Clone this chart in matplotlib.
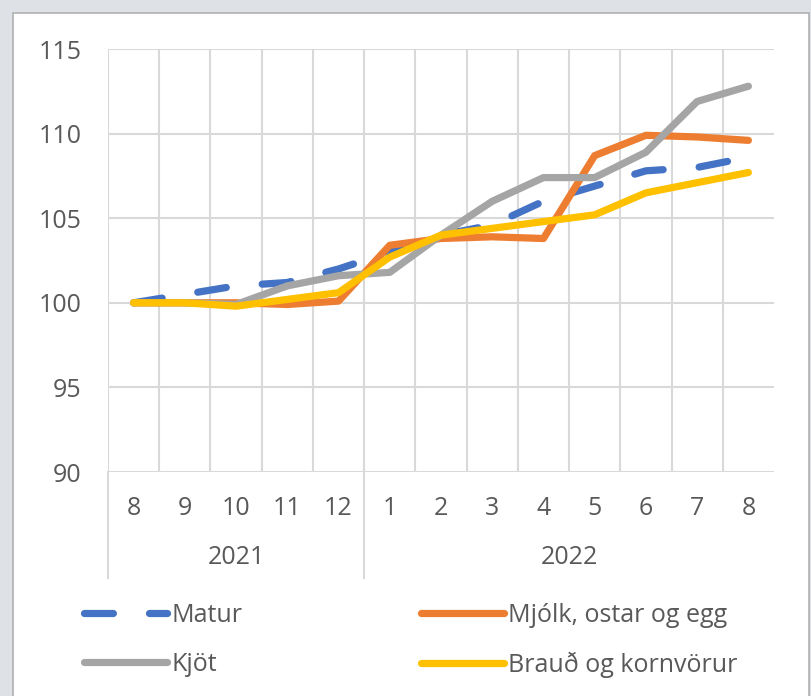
import matplotlib
matplotlib.use("Agg")
import matplotlib.pyplot as plt
from matplotlib.patches import Rectangle
from matplotlib.lines import Line2D

# gögn lesin af myndinni (vísitala, 8/2021 = 100)
manudir = ['8', '9', '10', '11', '12', '1', '2', '3', '4', '5', '6', '7', '8']
ar = ['2021', '2022']
ar_midja = [2, 8.5]          # miðja hvers árs á flokkaásnum
ar_skil = [-0.5, 4.5]        # skil milli ára

matur = [100, 100.5, 101.0, 101.2, 102.0, 103.0, 104.0, 104.6, 106.0, 106.9, 107.8, 108.0, 108.6]
mjolk = [100, 100.0, 100.0, 99.9, 100.1, 103.4, 103.8, 103.9, 103.8, 108.7, 109.9, 109.8, 109.6]
kjot = [100, 100.0, 99.9, 101.0, 101.6, 101.8, 104.0, 106.0, 107.4, 107.4, 108.9, 111.9, 112.8]
braud = [100, 100.0, 99.8, 100.2, 100.6, 102.7, 104.0, 104.4, 104.8, 105.2, 106.5, 107.1, 107.7]

y_gildi = [90, 95, 100, 105, 110, 115]

BLAR = '#4472C4'
APP = '#ED7D31'
GRAR = '#A5A5A5'
GULUR = '#FFC000'
TEXTI = '#595959'
GRID = '#D9D9D9'

plt.rcParams['font.family'] = ['Open Sans', 'DejaVu Sans']

W, H = 811, 696
fig = plt.figure(figsize=(W / 100, H / 100), dpi=100, facecolor='#DEE1E6')

# hvítur flötur
fig.patches.append(Rectangle((13 / W, -0.01), (809 - 13) / W, (H - 13) / H + 0.01,
                             transform=fig.transFigure, facecolor='white',
                             edgecolor='#B0B0B0', linewidth=1.2, zorder=-5))

ax = fig.add_axes([108 / W, (H - 472) / H, (774 - 108) / W, (472 - 49) / H])
ax.set_facecolor('none')
x = list(range(len(manudir)))

lw = 5.2
ax.plot(x, matur, color=BLAR, lw=lw, linestyle=(0, (4, 5)),
        dash_capstyle='round', solid_joinstyle='round', zorder=3)
ax.plot(x, mjolk, color=APP, lw=lw, solid_capstyle='round', solid_joinstyle='round', zorder=4)
ax.plot(x, kjot, color=GRAR, lw=lw, solid_capstyle='round', solid_joinstyle='round', zorder=5)
ax.plot(x, braud, color=GULUR, lw=lw, solid_capstyle='round', solid_joinstyle='round', zorder=6)

ax.set_xlim(-0.5, len(manudir) - 0.5)
ax.set_ylim(90, 115)
ax.set_yticks(y_gildi)
ax.set_xticks(x)
ax.set_xticklabels(manudir)
ax.set_xticks([i - 0.5 for i in range(len(manudir))], minor=True)
ax.grid(axis='y', which='major', color=GRID, lw=1.5, zorder=1)
ax.grid(axis='x', which='minor', color=GRID, lw=1.5, zorder=1)
ax.tick_params(axis='both', which='both', length=0, labelsize=18, labelcolor=TEXTI)
ax.tick_params(axis='y', pad=19)
ax.tick_params(axis='x', pad=17)
for s in ax.spines.values():
    s.set_visible(False)

# ár og skil á flokkaásnum
for xs in ar_skil:
    ax.plot([xs, xs], [0, -0.25], transform=ax.get_xaxis_transform(),
            color=GRID, lw=1.5, clip_on=False)
for xm, a in zip(ar_midja, ar):
    ax.text(xm, -0.201, a, transform=ax.get_xaxis_transform(), ha='center',
            va='center', fontsize=18, color=TEXTI)

# skýringar
def handfang(c, **kw):
    return Line2D([], [], color=c, lw=lw, solid_capstyle='round', **kw)

leg_kw = dict(loc='upper left', frameon=False, fontsize=18, labelcolor=TEXTI,
              handlelength=3.3, handletextpad=0.2, labelspacing=0.95, borderpad=0,
              borderaxespad=0)
l1 = fig.legend([handfang(BLAR, linestyle=(0, (4, 5)), dash_capstyle='round'), handfang(GRAR)],
                ['Matur', 'Kjöt'], bbox_to_anchor=(84 / W, (H - 603) / H), **leg_kw)
l2 = fig.legend([handfang(APP), handfang(GULUR)],
                ['Mjólk, ostar og egg', 'Brauð og kornvörur'],
                bbox_to_anchor=(421 / W, (H - 603) / H), **leg_kw)

fig.savefig('out.png', dpi=100, facecolor=fig.get_facecolor())
